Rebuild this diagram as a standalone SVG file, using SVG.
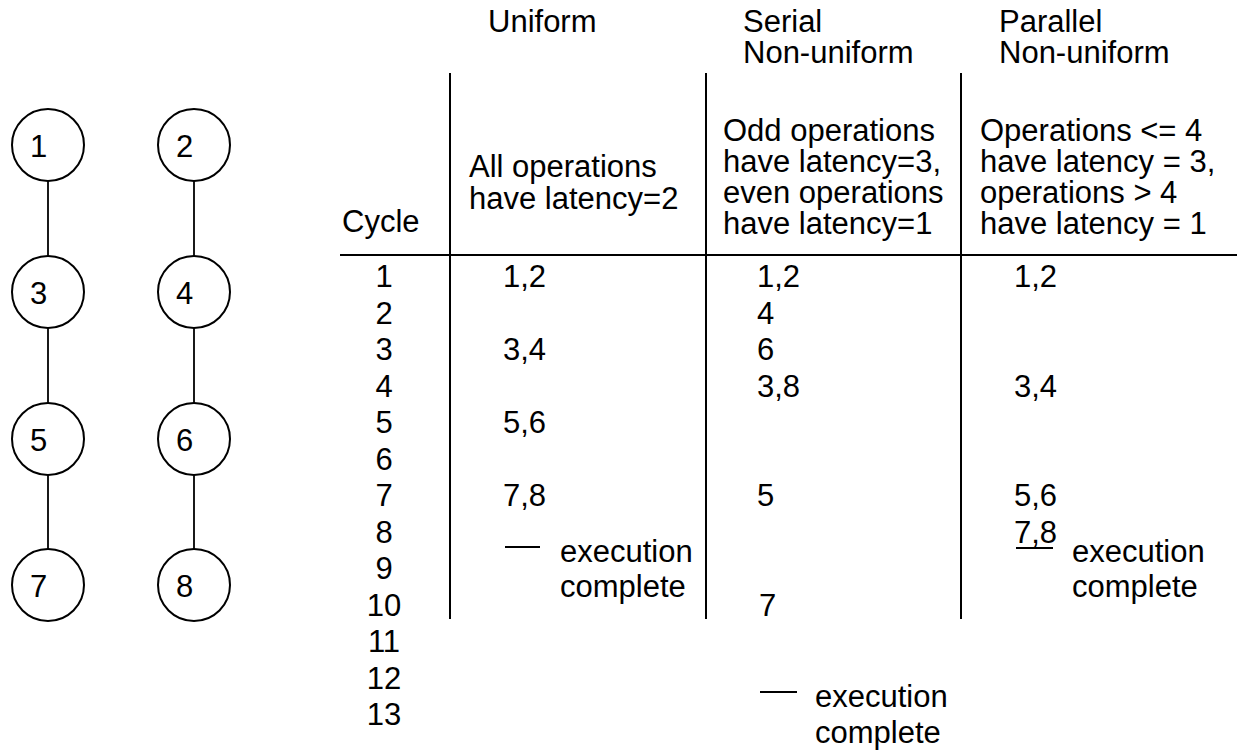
<svg xmlns="http://www.w3.org/2000/svg" width="1238" height="752" viewBox="0 0 1238 752">
<style>
text{font-family:"Liberation Sans",Arial,sans-serif;font-size:31px;fill:#000}
.c{text-anchor:middle}
.node circle{fill:#fff;stroke:#000;stroke-width:2}
.ln{stroke:#000;stroke-width:2;fill:none}
.cn{stroke:#000;stroke-width:1.8;fill:none}
</style>
<rect width="1238" height="752" fill="#fff"/>
<g id="connectors">
<line class="cn" x1="48" y1="181" x2="48" y2="256"/>
<line class="cn" x1="48" y1="328" x2="48" y2="403"/>
<line class="cn" x1="48" y1="475" x2="48" y2="549"/>
<line class="cn" x1="194" y1="181" x2="194" y2="256"/>
<line class="cn" x1="194" y1="328" x2="194" y2="403"/>
<line class="cn" x1="194" y1="475" x2="194" y2="549"/>
</g>
<g id="n1" class="node"><circle cx="48" cy="145" r="36"/><text x="30" y="157">1</text></g>
<g id="n2" class="node"><circle cx="194" cy="145" r="36"/><text x="176" y="157">2</text></g>
<g id="n3" class="node"><circle cx="48" cy="292" r="36"/><text x="30" y="304">3</text></g>
<g id="n4" class="node"><circle cx="194" cy="292" r="36"/><text x="176" y="304">4</text></g>
<g id="n5" class="node"><circle cx="48" cy="439" r="36"/><text x="30" y="451">5</text></g>
<g id="n6" class="node"><circle cx="194" cy="439" r="36"/><text x="176" y="451">6</text></g>
<g id="n7" class="node"><circle cx="48" cy="585" r="36"/><text x="30" y="597">7</text></g>
<g id="n8" class="node"><circle cx="194" cy="585" r="36"/><text x="176" y="597">8</text></g>

<g id="table">
<line class="ln" x1="450" y1="73" x2="450" y2="619"/>
<line class="ln" x1="706" y1="73" x2="706" y2="619"/>
<line class="ln" x1="961" y1="73" x2="961" y2="619"/>
<line class="ln" x1="340" y1="255" x2="1237" y2="255"/>

<text x="488" y="32">Uniform</text>
<text x="743" y="32">Serial</text>
<text x="743" y="63">Non-uniform</text>
<text x="999" y="32">Parallel</text>
<text x="999" y="63">Non-uniform</text>

<text x="342" y="232">Cycle</text>
<text x="469" y="177">All operations</text>
<text x="469" y="209">have latency=2</text>
<text x="723" y="141">Odd operations</text>
<text x="723" y="172">have latency=3,</text>
<text x="723" y="203">even operations</text>
<text x="723" y="234">have latency=1</text>
<text x="980" y="141">Operations &lt;= 4</text>
<text x="980" y="172">have latency = 3,</text>
<text x="980" y="203">operations &gt; 4</text>
<text x="980" y="234">have latency = 1</text>

<text class="c" x="384" y="287">1</text>
<text class="c" x="384" y="323.5">2</text>
<text class="c" x="384" y="360">3</text>
<text class="c" x="384" y="396.5">4</text>
<text class="c" x="384" y="433">5</text>
<text class="c" x="384" y="469.5">6</text>
<text class="c" x="384" y="506">7</text>
<text class="c" x="384" y="542.5">8</text>
<text class="c" x="384" y="579">9</text>
<text class="c" x="384" y="615.5">10</text>
<text class="c" x="384" y="652">11</text>
<text class="c" x="384" y="688.5">12</text>
<text class="c" x="384" y="725">13</text>

<text x="503" y="287">1,2</text>
<text x="503" y="360">3,4</text>
<text x="503" y="433">5,6</text>
<text x="503" y="506">7,8</text>
<line class="cn" x1="505" y1="547" x2="540" y2="547"/>
<text x="560" y="562">execution</text>
<text x="560" y="597">complete</text>

<text x="757" y="287">1,2</text>
<text x="757" y="323.5">4</text>
<text x="757" y="360">6</text>
<text x="757" y="396.5">3,8</text>
<text x="757" y="506">5</text>
<text x="759" y="616">7</text>
<line class="cn" x1="760" y1="692" x2="797" y2="692"/>
<text x="815" y="707">execution</text>
<text x="815" y="743">complete</text>

<text x="1014" y="287">1,2</text>
<text x="1014" y="396.5">3,4</text>
<text x="1014" y="506">5,6</text>
<text x="1014" y="542.5">7,8</text>
<line class="cn" x1="1016" y1="548" x2="1053" y2="548"/>
<text x="1072" y="562">execution</text>
<text x="1072" y="597">complete</text>
</g>
</svg>
